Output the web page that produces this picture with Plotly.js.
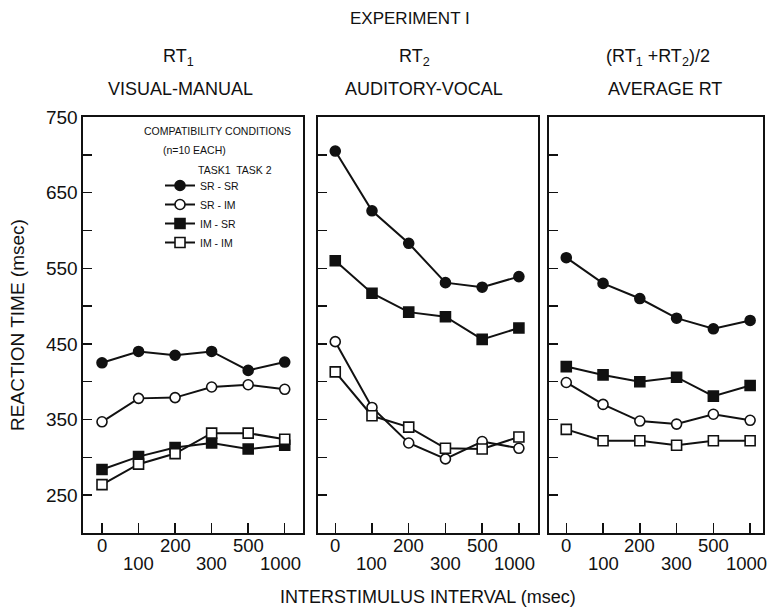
<!DOCTYPE html>
<html>
<head>
<meta charset="utf-8">
<script src="https://cdn.plot.ly/plotly-3.0.1.min.js"></script>
<style>html,body{margin:0;padding:0;background:#fff;}#chart{width:769px;height:608px;}</style>
</head>
<body>
<div id="chart"></div>
<script>
// ---------- data ----------
const isiLabels = ['0', '100', '200', '300', '500', '1000'];
const conditionNames = ['SR - SR', 'SR - IM', 'IM - SR', 'IM - IM'];
const panelTitles = ['RT<sub>1</sub>', 'RT<sub>2</sub>', '(RT<sub>1</sub> +RT<sub>2</sub>)/2'];
const panelSubtitles = ['VISUAL-MANUAL', 'AUDITORY-VOCAL', 'AVERAGE RT'];

// RT1 visual-manual
const rt1_SRSR = [425, 440, 435, 440, 415, 426];
const rt1_SRIM = [347, 378, 379, 393, 396, 390];
const rt1_IMSR = [284, 301, 313, 319, 311, 316];
const rt1_IMIM = [264, 291, 305, 332, 332, 324];
// RT2 auditory-vocal
const rt2_SRSR = [705, 626, 583, 531, 525, 539];
const rt2_SRIM = [453, 366, 319, 298, 321, 312];
const rt2_IMSR = [560, 517, 492, 486, 456, 471];
const rt2_IMIM = [413, 355, 340, 312, 311, 327];
// average RT
const avg_SRSR = [564, 530, 510, 484, 470, 481];
const avg_SRIM = [399, 370, 348, 344, 357, 349];
const avg_IMSR = [420, 409, 400, 406, 381, 395];
const avg_IMIM = [337, 322, 322, 316, 322, 322];

const yTickVals = [250, 350, 450, 550, 650, 750];
const yTickText = ['250', '350', '450', '550', '650', '750'];
const yMinorTickVals = [300, 400, 500, 600, 700];

// ---------- layout helpers ----------
const W = 769, H = 608;
const M = {l: 83, r: 6, t: 117, b: 75};
const PW = W - M.l - M.r, PH = H - M.t - M.b;
const px = x => (x - M.l) / PW;
const py = y => (H - M.b - y) / PH;

const FONT = 'Liberation Sans, Arial, sans-serif';
const INK = '#111111';

const styles = [
  {symbol: 'circle', fill: INK},
  {symbol: 'circle', fill: '#ffffff'},
  {symbol: 'square', fill: INK},
  {symbol: 'square', fill: '#ffffff'}
];
const panels = [
  [rt1_SRSR, rt1_SRIM, rt1_IMSR, rt1_IMIM],
  [rt2_SRSR, rt2_SRIM, rt2_IMSR, rt2_IMIM],
  [avg_SRSR, avg_SRIM, avg_IMSR, avg_IMIM]
];

const traces = [];
panels.forEach((series, p) => {
  series.forEach((vals, k) => {
    traces.push({
      type: 'scatter', mode: 'lines+markers',
      x: isiLabels, y: vals,
      name: conditionNames[k],
      legendrank: k,
      showlegend: p === 0,
      xaxis: p === 0 ? 'x' : 'x' + (p + 1),
      yaxis: p === 0 ? 'y' : 'y' + (p + 1),
      line: {color: INK, width: 2},
      marker: {symbol: styles[k].symbol, size: 10, color: styles[k].fill,
               line: {color: INK, width: 1.6}},
      cliponaxis: false
    });
  });
});

const domains = [[px(83), px(303)], [px(318), px(538)], [px(549), 1]];
const xRanges = [[-0.52, 5.5], [-0.47, 5.52], [-0.47, 5.35]];

const layout = {
  width: W, height: H,
  margin: M,
  paper_bgcolor: '#fff', plot_bgcolor: '#fff',
  font: {family: FONT, color: INK, size: 18},
  showlegend: true,
  legend: {
    x: px(160), y: py(171), xanchor: 'left', yanchor: 'top',
    bgcolor: 'rgba(0,0,0,0)', borderwidth: 0,
    font: {family: FONT, size: 10.5, color: INK},
    tracegroupgap: 0, traceorder: 'normal'
  },
  annotations: [],
  shapes: []
};

for (let p = 0; p < 3; p++) {
  const sx = p === 0 ? '' : String(p + 1);
  layout['xaxis' + sx] = {
    domain: domains[p], anchor: 'y' + sx,
    type: 'category', range: xRanges[p],
    tickmode: 'array', tickvals: isiLabels, showticklabels: false,
    ticks: 'inside', ticklen: 10, tickwidth: 1.5, tickcolor: INK,
    showline: true, linecolor: INK, linewidth: 1.6, mirror: true,
    showgrid: false, zeroline: false
  };
  layout['yaxis' + sx] = {
    domain: [0, 1], anchor: 'x' + sx,
    range: [200, 750],
    tickmode: 'array', tickvals: yTickVals, ticktext: yTickText,
    showticklabels: p === 0,
    ticks: 'inside', ticklen: 9, tickwidth: 1.5, tickcolor: INK,
    minor: {tickmode: 'array', tickvals: yMinorTickVals, ticks: 'inside',
            ticklen: 9, tickwidth: 1.5, tickcolor: INK, showgrid: false},
    showline: true, linecolor: INK, linewidth: 1.6, mirror: true,
    showgrid: false, zeroline: false,
    tickfont: {family: FONT, size: 19, color: INK}
  };
  // staggered tick labels (two rows), placed on the category index of each axis
  isiLabels.forEach((lab, i) => {
    const lower = i % 2 === 1;
    layout.annotations.push({
      text: lab, xref: 'x' + sx, yref: 'paper', x: i, y: py(lower ? 563 : 545),
      xanchor: 'center', yanchor: 'middle', showarrow: false,
      xshift: i === isiLabels.length - 1 ? -4 : 0,
      font: {family: FONT, size: 18.5, color: INK}
    });
  });
}
layout.yaxis.title = {text: 'REACTION TIME (msec)', font: {family: FONT, size: 19, color: INK}, standoff: 16};

function ann(text, x, y, size) {
  layout.annotations.push({
    text: text, xref: 'paper', yref: 'paper', x: px(x), y: py(y),
    xanchor: 'center', yanchor: 'middle', showarrow: false,
    font: {family: FONT, size: size, color: INK}
  });
}
ann('INTERSTIMULUS INTERVAL (msec)', 428, 597, 18);
ann('EXPERIMENT I', 410, 18, 17);
const titleX = [178, 414, 658];
const subX = [180, 424, 665];
for (let p = 0; p < 3; p++) {
  ann(panelTitles[p], titleX[p], 58, 18);
  ann(panelSubtitles[p], subX[p], 89, 18);
}
ann('COMPATIBILITY CONDITIONS', 217, 131, 10.5);
ann('(n=10 EACH)', 194, 150, 10.5);
ann('TASK1  TASK 2', 235, 170, 10.5);

Plotly.newPlot('chart', traces, layout, {staticPlot: true, displayModeBar: false});
</script>
</body>
</html>
